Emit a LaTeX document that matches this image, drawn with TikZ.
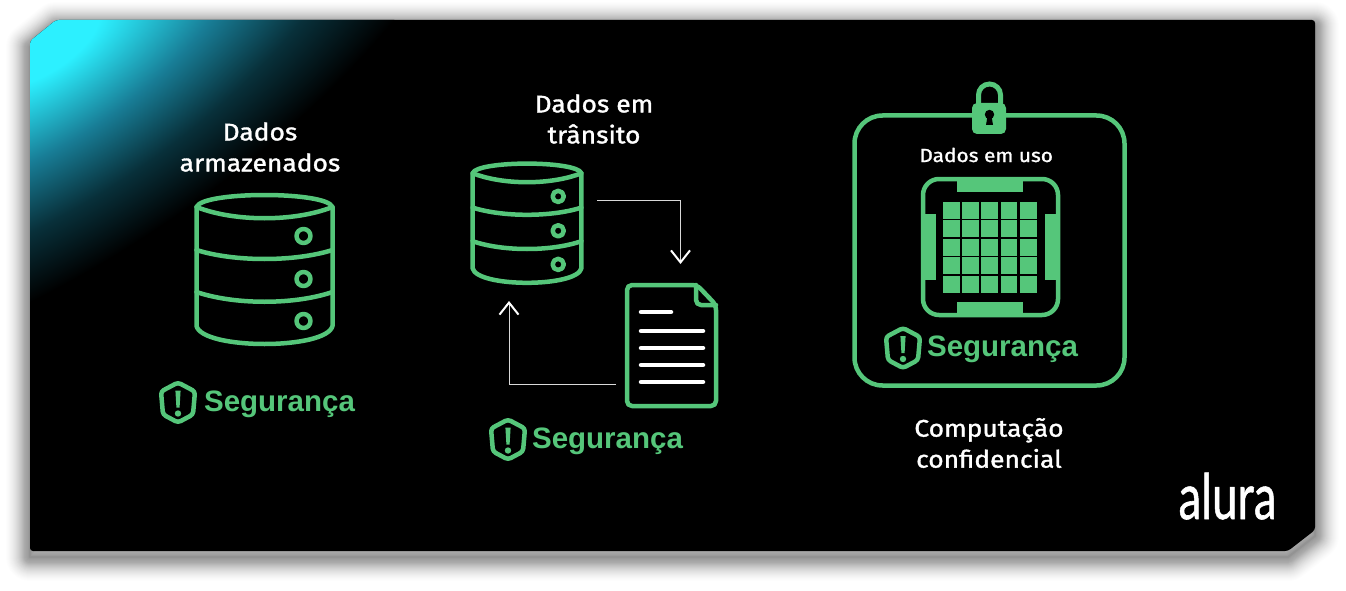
\documentclass[tikz,border=0pt]{standalone}
\usepackage{fontspec}
\usetikzlibrary{arrows.meta}
\newfontfamily\titlefont[FakeBold=1.4,FakeStretch=1.1]{Fira Sans}
\newfontfamily\alertfont{Liberation Sans}
\newfontfamily\logofont[FakeBold=1]{Lato}
\definecolor{aluragreen}{RGB}{85,198,122}
\definecolor{glowcyan}{RGB}{44,240,255}
\definecolor{glowmid}{RGB}{24,125,150}
\definecolor{glowdark}{RGB}{8,48,58}
\def\cardpath{(30,41) -- (56,20) -- (1315,20) -- (1315,530) -- (1288,551) -- (30,551) -- cycle}
\pgfdeclareradialshading{cardglow}{\pgfpointorigin}{
  color(0bp)=(glowcyan); color(3bp)=(glowcyan); color(11bp)=(glowmid);
  color(18bp)=(glowdark); color(25bp)=(black)}

\tikzset{
  dbicon/.pic={
    \draw[greenline] (-68,14) .. controls (-62,-2) and (62,-2) .. (68,14)
      -- (68,133) .. controls (62,157) and (-62,157) .. (-68,133) -- cycle;
    \draw[greenline] (-68,14) .. controls (-30,29) and (30,29) .. (68,14);
    \draw[greenline] (-68,57) .. controls (-30,69) and (30,69) .. (68,57);
    \draw[greenline] (-68,99) .. controls (-30,112) and (30,112) .. (68,99);
    \foreach \dy in {43,86,128}
      \draw[greenline] (39,\dy) circle (7);
  },
  shieldicon/.pic={
    \draw[greenline,rounded corners=3pt] (0,-20) -- (17,-11) -- (15,12) -- (0,20) -- (-15,12) -- (-17,-11) -- cycle;
    \fill[aluragreen] (-2.6,-12) -- (2.6,-12) -- (1.6,5) -- (-1.6,5) -- cycle;
    \fill[aluragreen] (0,11) circle (3.2);
  }
}

\begin{document}
\begin{tikzpicture}[
    x=1pt,y=-1pt,
    greenline/.style={
      draw=aluragreen,line width=4.5pt,line join=round,line cap=round
    },
    whiteline/.style={
      draw=white,line width=4.5pt,line cap=round
    },
    flowarrow/.style={
      draw=white!85!black,line width=1pt,
      -{Straight Barb[length=12pt,width=19pt,line width=2pt,color=white]}
    },
    title/.style={
      text=white,font=\titlefont\fontsize{24}{31}\selectfont,align=center
    },
    alert/.style={
      text=aluragreen,anchor=base,font=\alertfont\bfseries\fontsize{29.5}{30}\selectfont
    }
  ]
    \useasboundingbox (0,0) rectangle (1346,591);
    \fill[white] (0,0) rectangle (1346,591);

    % card with its shadow
    \begin{scope}[yshift=-6pt]
      \foreach \blur [evaluate=\blur as \shadealpha using 0.005+0.0012*(25-\blur)] in {1,...,24}
        \draw[black,opacity=\shadealpha,line width=2*\blur pt,line join=round] \cardpath;
    \end{scope}
    \fill[black,rounded corners=3pt] \cardpath;
    \begin{scope}
      \clip[rounded corners=3pt] \cardpath;
      \shade[shading=cardglow,transform canvas={shift={(45pt,-45pt)},rotate=34}]
        (0,0) ellipse (520 and 215);
    \end{scope}

    % left database
    \node[title] (TitleStored) at (260,147) { Dados\\armazenados };
    \pic at (264.5,193) {dbicon};
    \pic at (178,402.5) {shieldicon};
    \node[alert] (AlertStored) at (279.5,411) { Segurança };

    % middle database and document
    \node[title] (TitleTransit) at (594,119) { Dados em\\trânsito };
    \pic[scale=0.8] at (527,162) {dbicon};
    \draw[greenline,rounded corners=5pt] (697,285) -- (627,285) -- (627,406) -- (716,406) -- (716,305) -- cycle;
    \draw[greenline,rounded corners=5pt] (696,285) -- (696,305) -- (716,305);
    \draw[whiteline] (641,312) -- (671,312);
    \foreach \ly in {331,348,365,382}
      \draw[whiteline] (641,\ly) -- (703,\ly);
    \pic at (508,439.5) {shieldicon};
    \node[alert] (AlertTransit) at (607.5,448) { Segurança };

    % arrows
    \coordinate (DbOut) at (597,200);
    \coordinate (DocIn) at (680.5,264);
    \coordinate (DocOut) at (616,384);
    \coordinate (DbIn) at (509,301);
    \draw[flowarrow] (DbOut) -| (DocIn);
    \draw[flowarrow] (DocOut) -| (DbIn);

    % right box with lock
    \draw[greenline,rounded corners=28pt] (854.5,115.5) rectangle (1124.5,385.5);
    \draw[aluragreen,line width=5pt] (978.5,106) -- (978.5,95) arc[start angle=180,end angle=360,radius=11] -- (1000.5,106);
    \fill[aluragreen,rounded corners=5pt] (972,103) rectangle (1006,134);
    \fill[black] (989.5,114.5) circle (4.7);
    \fill[black] (987.5,116) -- (991.5,116) -- (993,125) -- (986,125) -- cycle;
    \node[title,font=\titlefont\fontsize{19}{22}\selectfont] (TitleUse) at (989,155) { Dados em uso };

    % chip
    \draw[greenline,rounded corners=16pt] (923,179) rectangle (1058,315);
    \fill[aluragreen] (957,177) rectangle (1023,192);
    \fill[aluragreen] (957,302) rectangle (1023,317);
    \fill[aluragreen] (921,214) rectangle (936,280);
    \fill[aluragreen] (1045,214) rectangle (1060,280);
    \foreach \col in {0,...,4}
      \foreach \row in {0,...,4}
        \fill[aluragreen] (943+19.2*\col,201.7+18.5*\row) rectangle +(16.8,16.8);

    \pic at (903,348) {shieldicon};
    \node[alert] (AlertUse) at (1002.5,356) { Segurança };
    \node[title] (TitleConfidential) at (989,443) { Computação\\confidencial };

    % logo
    \node[text=white,anchor=base,xscale=0.725,font=\logofont\fontsize{63}{63}\selectfont] (Logo) at (1227.5,519) { alura };
\end{tikzpicture}
\end{document}
